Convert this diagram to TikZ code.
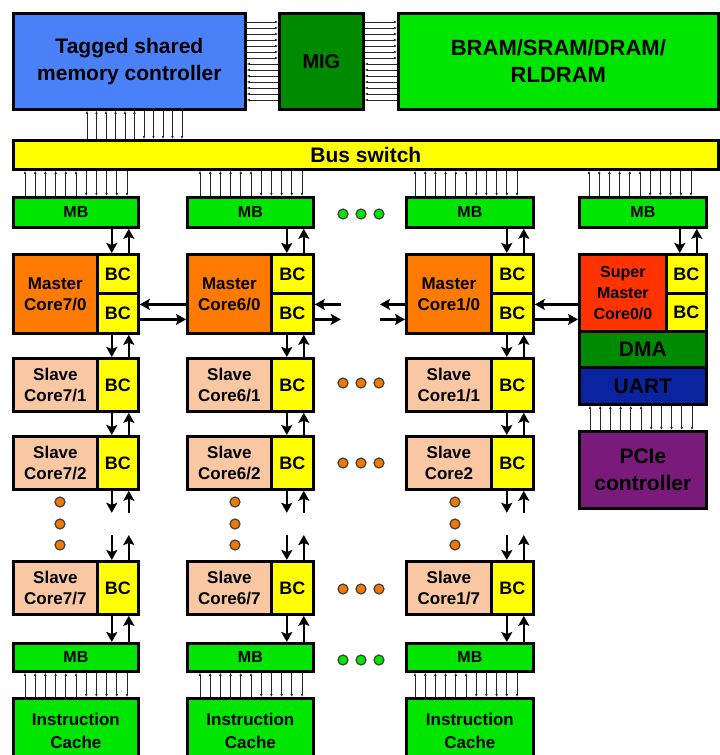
\documentclass[tikz,border=0pt]{standalone}
\usepackage{fontspec}
\setmainfont{Liberation Sans}
\usetikzlibrary{calc,arrows.meta}
\definecolor{cblue}{HTML}{4A80F8}
\definecolor{cdgreen}{HTML}{008A00}
\definecolor{cgreen}{HTML}{00E600}
\definecolor{cyel}{HTML}{FFFF00}
\definecolor{corange}{HTML}{FF7A00}
\definecolor{cpeach}{HTML}{F9C8A2}
\definecolor{cred}{HTML}{FF3300}
\definecolor{cnavy}{HTML}{0A24A0}
\definecolor{cpurple}{HTML}{7A1A7A}
\definecolor{cdot}{HTML}{F07800}
\newcommand\fz[2]{\fontsize{#1}{#2}\selectfont\bfseries}
\newcommand\bxx[8]{\node[box,fill=#6,minimum width=#4-#2,minimum height=#5-#3,font=#8] (#1) at (#2,#3) {#7};}
\newcommand\vpair[2]{%
  \path ($(#1.south east)+(-28,0)$) coordinate (va) ($(#1.south east)+(-11,0)$) coordinate (vb);
  \draw[arr] (va) -- (va |- #2.north);
  \draw[arr] (vb |- #2.north) -- (vb);}
\newcommand\vstubs[2]{%
  \path ($(#1.south east)+(-28,0)$) coordinate (va) ($(#1.south east)+(-11,0)$) coordinate (vb)
        ($(#1.south east)+(-28,22)$) coordinate (vc) ($(#1.south east)+(-11,22)$) coordinate (vd);
  \draw[arr] (va) -- (vc);
  \draw[arr] (vd) -- (vb);
  \path ($(#2.north east)+(-28,-25)$) coordinate (ve) ($(#2.north east)+(-11,-25)$) coordinate (vf);
  \draw[arr] (ve) -- (ve |- #2.north);
  \draw[arr] (vf |- #2.north) -- (vf);}
\newcommand\vbus[5]{%
  \foreach \i in {0,...,#4}{%
    \coordinate (bt) at ({#3+\i*#5},0);
    \pgfmathtruncatemacro\half{2*\i>#4}
    \ifnum\half=0 \draw[bus,tipa] (bt |- #1.south) -- (bt |- #2.north);
    \else \draw[bus,tipb] (bt |- #1.south) -- (bt |- #2.north);\fi}}
\newcommand\hbus[5]{%
  \foreach \i in {0,...,#4}{%
    \coordinate (bt) at (0,{#3+\i*#5});
    \pgfmathtruncatemacro\half{2*\i>#4}
    \ifnum\half=0 \draw[bus,tipb] (bt -| #1.east) -- (bt -| #2.west);
    \else \draw[bus,tipa] (bt -| #1.east) -- (bt -| #2.west);\fi}}
\begin{document}
\begin{tikzpicture}[x=1pt,y=-1pt,
  box/.style={draw=black,line width=2.8pt,inner sep=0pt,align=center,anchor=north west},
  arr/.style={line width=2.4pt,-{Stealth[length=10pt,width=11pt,inset=2pt]}},
  bus/.style={line width=1pt,black!85},
  tipa/.style={{Latex[length=3pt,width=2.6pt]}-},
  tipb/.style={-{Latex[length=3pt,width=2.6pt]}},
  dotg/.style={circle,draw=black!75,line width=1.2pt,fill=cgreen,minimum size=10pt,inner sep=0pt},
  doto/.style={circle,draw=black!75,line width=1.2pt,fill=cdot,minimum size=10pt,inner sep=0pt}]
\useasboundingbox (0,0) rectangle (720,755);
\fill[white] (0,0) rectangle (720,755);
% top row
\bxx{tsmc}{12}{12}{244}{108}{cblue}{Tagged shared\\memory controller}{\fz{21}{27}}
\bxx{mig}{278}{12}{362}{108}{cdgreen}{MIG}{\fz{20}{24}}
\bxx{bram}{397}{12}{717}{108}{cgreen}{BRAM/SRAM/DRAM/\\RLDRAM}{\fz{22}{27}}
\bxx{bus}{12}{139}{717}{168}{cyel}{Bus switch}{\fz{21}{24}}
\hbus{tsmc}{mig}{22}{13}{6}
\hbus{mig}{bram}{22}{13}{6}
\vbus{tsmc}{bus}{87}{10}{9.5}
% MB row
\bxx{mb1}{12}{196}{137}{226}{cgreen}{MB}{\fz{16}{18}}
\bxx{mb2}{186}{196}{312}{226}{cgreen}{MB}{\fz{16}{18}}
\bxx{mb3}{405}{196}{532}{226}{cgreen}{MB}{\fz{16}{18}}
\bxx{mb4}{578}{196}{705}{226}{cgreen}{MB}{\fz{16}{18}}
\vbus{bus}{mb1}{25}{10}{10.2}
\vbus{bus}{mb2}{200}{10}{10.2}
\vbus{bus}{mb3}{415}{10}{10.2}
\vbus{bus}{mb4}{589}{10}{10.2}
% master cores
\bxx{mc1}{12}{253}{96}{332}{corange}{Master\\Core7/0}{\fz{17}{21}}
\bxx{mc1a}{96}{253}{137}{292}{cyel}{BC}{\fz{18}{20}}
\bxx{mc1b}{96}{292}{137}{332}{cyel}{BC}{\fz{18}{20}}
\bxx{mc2}{186}{253}{270}{332}{corange}{Master\\Core6/0}{\fz{17}{21}}
\bxx{mc2a}{270}{253}{312}{292}{cyel}{BC}{\fz{18}{20}}
\bxx{mc2b}{270}{292}{312}{332}{cyel}{BC}{\fz{18}{20}}
\bxx{mc3}{405}{253}{490}{332}{corange}{Master\\Core1/0}{\fz{17}{21}}
\bxx{mc3a}{490}{253}{532}{292}{cyel}{BC}{\fz{18}{20}}
\bxx{mc3b}{490}{292}{532}{332}{cyel}{BC}{\fz{18}{20}}
\bxx{sm}{578}{253}{665}{330}{cred}{Super\\Master\\Core0/0}{\fz{16}{21}}
\bxx{sma}{665}{253}{705}{292}{cyel}{BC}{\fz{18}{20}}
\bxx{smb}{665}{292}{705}{330}{cyel}{BC}{\fz{18}{20}}
\bxx{dma}{578}{330}{705}{366}{cdgreen}{DMA}{\fz{21}{24}}
\bxx{uart}{578}{366}{705}{403}{cnavy}{UART}{\fz{21}{24}}
\bxx{pcie}{578}{430}{705}{507}{cpurple}{PCIe\\controller}{\fz{21}{27}}
\vbus{uart}{pcie}{590}{10}{10.2}
% slave rows
\bxx{s1a}{12}{357}{96}{410}{cpeach}{Slave\\Core7/1}{\fz{17}{21}}
\bxx{s1abc}{96}{357}{137}{410}{cyel}{BC}{\fz{18}{20}}
\bxx{s1b}{186}{357}{270}{410}{cpeach}{Slave\\Core6/1}{\fz{17}{21}}
\bxx{s1bbc}{270}{357}{312}{410}{cyel}{BC}{\fz{18}{20}}
\bxx{s1c}{405}{357}{490}{410}{cpeach}{Slave\\Core1/1}{\fz{17}{21}}
\bxx{s1cbc}{490}{357}{532}{410}{cyel}{BC}{\fz{18}{20}}
\bxx{s2a}{12}{435}{96}{488}{cpeach}{Slave\\Core7/2}{\fz{17}{21}}
\bxx{s2abc}{96}{435}{137}{488}{cyel}{BC}{\fz{18}{20}}
\bxx{s2b}{186}{435}{270}{488}{cpeach}{Slave\\Core6/2}{\fz{17}{21}}
\bxx{s2bbc}{270}{435}{312}{488}{cyel}{BC}{\fz{18}{20}}
\bxx{s2c}{405}{435}{490}{488}{cpeach}{Slave\\Core2}{\fz{17}{21}}
\bxx{s2cbc}{490}{435}{532}{488}{cyel}{BC}{\fz{18}{20}}
\bxx{s7a}{12}{560}{96}{613}{cpeach}{Slave\\Core7/7}{\fz{17}{21}}
\bxx{s7abc}{96}{560}{137}{613}{cyel}{BC}{\fz{18}{20}}
\bxx{s7b}{186}{560}{270}{613}{cpeach}{Slave\\Core6/7}{\fz{17}{21}}
\bxx{s7bbc}{270}{560}{312}{613}{cyel}{BC}{\fz{18}{20}}
\bxx{s7c}{405}{560}{490}{613}{cpeach}{Slave\\Core1/7}{\fz{17}{21}}
\bxx{s7cbc}{490}{560}{532}{613}{cyel}{BC}{\fz{18}{20}}
% bottom MB and caches
\bxx{mbb1}{12}{642}{137}{670}{cgreen}{MB}{\fz{16}{18}}
\bxx{mbb2}{186}{642}{312}{670}{cgreen}{MB}{\fz{16}{18}}
\bxx{mbb3}{405}{642}{532}{670}{cgreen}{MB}{\fz{16}{18}}
\bxx{ic1}{12}{697}{137}{762}{cgreen}{Instruction\\Cache}{\fz{17}{23}}
\bxx{ic2}{186}{697}{312}{762}{cgreen}{Instruction\\Cache}{\fz{17}{23}}
\bxx{ic3}{405}{697}{532}{762}{cgreen}{Instruction\\Cache}{\fz{17}{23}}
\vbus{mbb1}{ic1}{25}{10}{10.2}
\vbus{mbb2}{ic2}{200}{10}{10.2}
\vbus{mbb3}{ic3}{415}{10}{10.2}
% vertical arrows
\vpair{mb1}{mc1a} \vpair{mb2}{mc2a} \vpair{mb3}{mc3a} \vpair{mb4}{sma}
\vpair{mc1b}{s1abc} \vpair{mc2b}{s1bbc} \vpair{mc3b}{s1cbc}
\vpair{s1abc}{s2abc} \vpair{s1bbc}{s2bbc} \vpair{s1cbc}{s2cbc}
\vstubs{s2abc}{s7abc} \vstubs{s2bbc}{s7bbc} \vstubs{s2cbc}{s7cbc}
\vpair{s7abc}{mbb1} \vpair{s7bbc}{mbb2} \vpair{s7cbc}{mbb3}
% horizontal arrows between master cores
\path ($(mc1b.east)+(0,-9)$) coordinate (hu) ($(mc1b.east)+(0,6)$) coordinate (hl);
\draw[arr] (hu -| mc2.west) -- (hu -| mc1b.east);
\draw[arr] (hl -| mc1b.east) -- (hl -| mc2.west);
\coordinate (c2r) at ($(mc2b.east)+(26,0)$);
\draw[arr] (hu -| c2r) -- (hu -| mc2b.east);
\draw[arr] (hl -| mc2b.east) -- (hl -| c2r);
\coordinate (c3l) at ($(mc3.west)+(-25,0)$);
\draw[arr] (hu -| mc3.west) -- (hu -| c3l);
\draw[arr] (hl -| c3l) -- (hl -| mc3.west);
\draw[arr] (hu -| sm.west) -- (hu -| mc3b.east);
\draw[arr] (hl -| mc3b.east) -- (hl -| sm.west);
% dots
\foreach \y/\s in {214/dotg,383/doto,463/doto,589/doto,660/dotg}
  \foreach \x in {343,361,379}
    \node[\s] (d\x-\y) at (\x,\y) {};
\foreach \x in {60,235,455}
  \foreach \y in {502,524,545}
    \node[doto] (v\x-\y) at (\x,\y) {};
\end{tikzpicture}
\end{document}
